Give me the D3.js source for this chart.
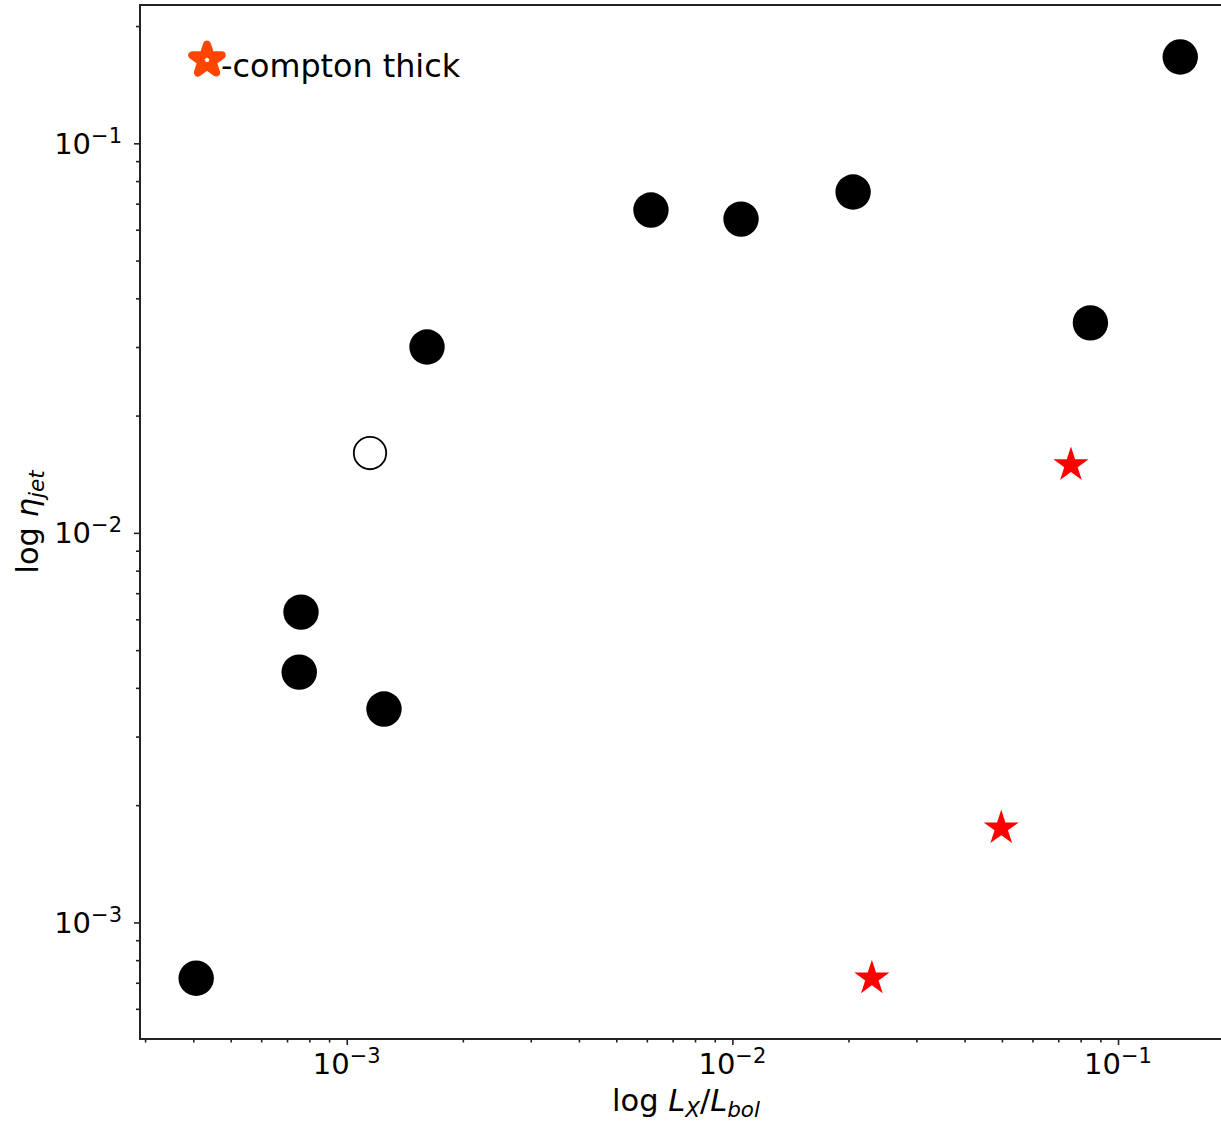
<!DOCTYPE html>
<html>
<head>
  <meta charset="utf-8">
  <title>Jet efficiency vs Lx/Lbol</title>
  <script src="https://d3js.org/d3.v7.min.js"></script>
  <style>
    body { margin: 0; background: white; }
    .canvas { background-color: white; }
    text { font-family: "DejaVu Sans", sans-serif; fill: #000; }
    .domain, .tick line { stroke: #222; }
  </style>
</head>
<body>
<script>
  // Data
  var filledX = [0.145, 0.00615, 0.01053, 0.02056, 0.0848, 0.001615, 0.000761, 0.000753, 0.001249, 0.000407];
  var filledY = [0.1666, 0.0674, 0.0639, 0.0750, 0.0346, 0.0300, 0.00626, 0.00439, 0.00353, 0.000719];
  var openX = [0.001149];
  var openY = [0.01603];
  var thickX = [0.0755, 0.0498, 0.0230];
  var thickY = [0.01493, 0.001746, 0.000719];
  var xMajor = [1e-3, 1e-2, 1e-1];
  var yMajor = [1e-3, 1e-2, 1e-1];
  var xDomain = [2.91e-4, 0.1975];
  var yDomain = [5.02e-4, 0.2265];
  var legendText = "-compton thick";

  // Consts
  var width = 1221;
  var height = 1122;
  var pLeft = 140, pRight = 1232, pTop = 5, pBottom = 1039;
  var dotR = 17.7;

  var svg = d3.select("body")
              .append("svg")
              .attr("width", width)
              .attr("height", height)
              .attr("class", "canvas");

  // Scale
  var x = d3.scaleLog().domain(xDomain).range([pLeft, pRight]);
  var y = d3.scaleLog().domain(yDomain).range([pBottom, pTop]);

  function minors(domain) {
    var out = [];
    for (var e = -5; e <= 0; e++) {
      for (var k = 2; k <= 9; k++) {
        var v = k * Math.pow(10, e);
        if (v >= domain[0] && v <= domain[1]) out.push(v);
      }
    }
    return out;
  }

  // Frame
  svg.append("rect")
     .attr("x", pLeft).attr("y", pTop)
     .attr("width", pRight - pLeft).attr("height", pBottom - pTop)
     .attr("fill", "none").attr("stroke", "#222").attr("stroke-width", 2);

  // axisBottom
  var gx = svg.append("g").attr("transform", "translate(0," + pBottom + ")");
  gx.call(d3.axisBottom(x).tickValues(xMajor).tickSize(6).tickSizeOuter(0).tickFormat(""));
  gx.append("g").call(d3.axisBottom(x).tickValues(minors(xDomain)).tickSize(3.5).tickSizeOuter(0).tickFormat(""));
  gx.selectAll(".domain").remove();
  gx.selectAll(".tick line").attr("stroke-width", 1.6);

  // axisLeft
  var gy = svg.append("g").attr("transform", "translate(" + pLeft + ",0)");
  gy.call(d3.axisLeft(y).tickValues(yMajor).tickSize(6).tickSizeOuter(0).tickFormat(""));
  gy.append("g").call(d3.axisLeft(y).tickValues(minors(yDomain)).tickSize(4).tickSizeOuter(0).tickFormat(""));
  gy.selectAll(".domain").remove();
  gy.selectAll(".tick line").attr("stroke-width", 1.6);

  // tick labels as 10^n
  function powLabel(sel) {
    sel.text("10")
       .append("tspan")
       .attr("font-size", 21)
       .attr("dy", -11)
       .text(function(d) { return "\u2212" + Math.abs(Math.round(Math.log10(d))); });
  }
  svg.selectAll(".xlab")
     .data(xMajor)
     .enter()
   .append("text")
     .attr("class", "xlab")
     .attr("x", function(d) { return x(d); })
     .attr("y", 1074)
     .attr("text-anchor", "middle")
     .attr("font-size", 29)
     .call(powLabel);
  svg.selectAll(".ylab")
     .data(yMajor)
     .enter()
   .append("text")
     .attr("class", "ylab")
     .attr("x", 122)
     .attr("y", function(d) { return y(d) + 10.5; })
     .attr("text-anchor", "end")
     .attr("font-size", 29)
     .call(powLabel);

  // axis titles
  var xt = svg.append("text")
              .attr("x", 686)
              .attr("y", 1111)
              .attr("text-anchor", "middle")
              .attr("font-size", 30.5);
  xt.append("tspan").text("log ");
  xt.append("tspan").attr("font-style", "italic").text("L");
  xt.append("tspan").attr("font-style", "italic").attr("font-size", 21.5).attr("dy", 6).text("X");
  xt.append("tspan").attr("dy", -6).text("/");
  xt.append("tspan").attr("font-style", "italic").text("L");
  xt.append("tspan").attr("font-style", "italic").attr("font-size", 21.5).attr("dy", 6).text("bol");

  var yt = svg.append("text")
              .attr("transform", "translate(38," + ((pTop + pBottom) / 2) + ") rotate(-90)")
              .attr("text-anchor", "middle")
              .attr("font-size", 30.5);
  yt.append("tspan").text("log ");
  yt.append("tspan").attr("font-style", "italic").text("\u03b7");
  yt.append("tspan").attr("font-style", "italic").attr("font-size", 21.5).attr("dy", 6).text("jet");

  // Dots
  var plot = svg.append("g");
  plot.selectAll(".dot")
      .data(d3.range(filledX.length))
      .enter()
    .append("circle")
      .attr("class", "dot")
      .attr("cx", function(i) { return x(filledX[i]); })
      .attr("cy", function(i) { return y(filledY[i]); })
      .attr("r", dotR)
      .attr("fill", "#000");

  plot.selectAll(".open")
      .data(d3.range(openX.length))
      .enter()
    .append("circle")
      .attr("class", "open")
      .attr("cx", function(i) { return x(openX[i]); })
      .attr("cy", function(i) { return y(openY[i]); })
      .attr("r", dotR - 1.5)
      .attr("fill", "#fff")
      .attr("stroke", "#000")
      .attr("stroke-width", 1.8);

  // Stars (compton thick)
  var star = d3.symbol().type(d3.symbolStar).size(18.5 * 18.5 / 0.8908);
  plot.selectAll(".star")
      .data(d3.range(thickX.length))
      .enter()
    .append("path")
      .attr("class", "star")
      .attr("d", star)
      .attr("transform", function(i) { return "translate(" + x(thickX[i]) + "," + y(thickY[i]) + ")"; })
      .attr("fill", "#ff0000");

  // Legend
  svg.append("path")
     .attr("d", d3.symbol().type(d3.symbolStar).size(15.5 * 15.5 / 0.8908))
     .attr("transform", "translate(207,60)")
     .attr("fill", "#fff")
     .attr("stroke", "#ff4500")
     .attr("stroke-width", 8)
     .attr("stroke-linejoin", "round");
  svg.append("text")
     .attr("x", 221)
     .attr("y", 77)
     .attr("font-size", 31.8)
     .text(legendText);
</script>
</body>
</html>
